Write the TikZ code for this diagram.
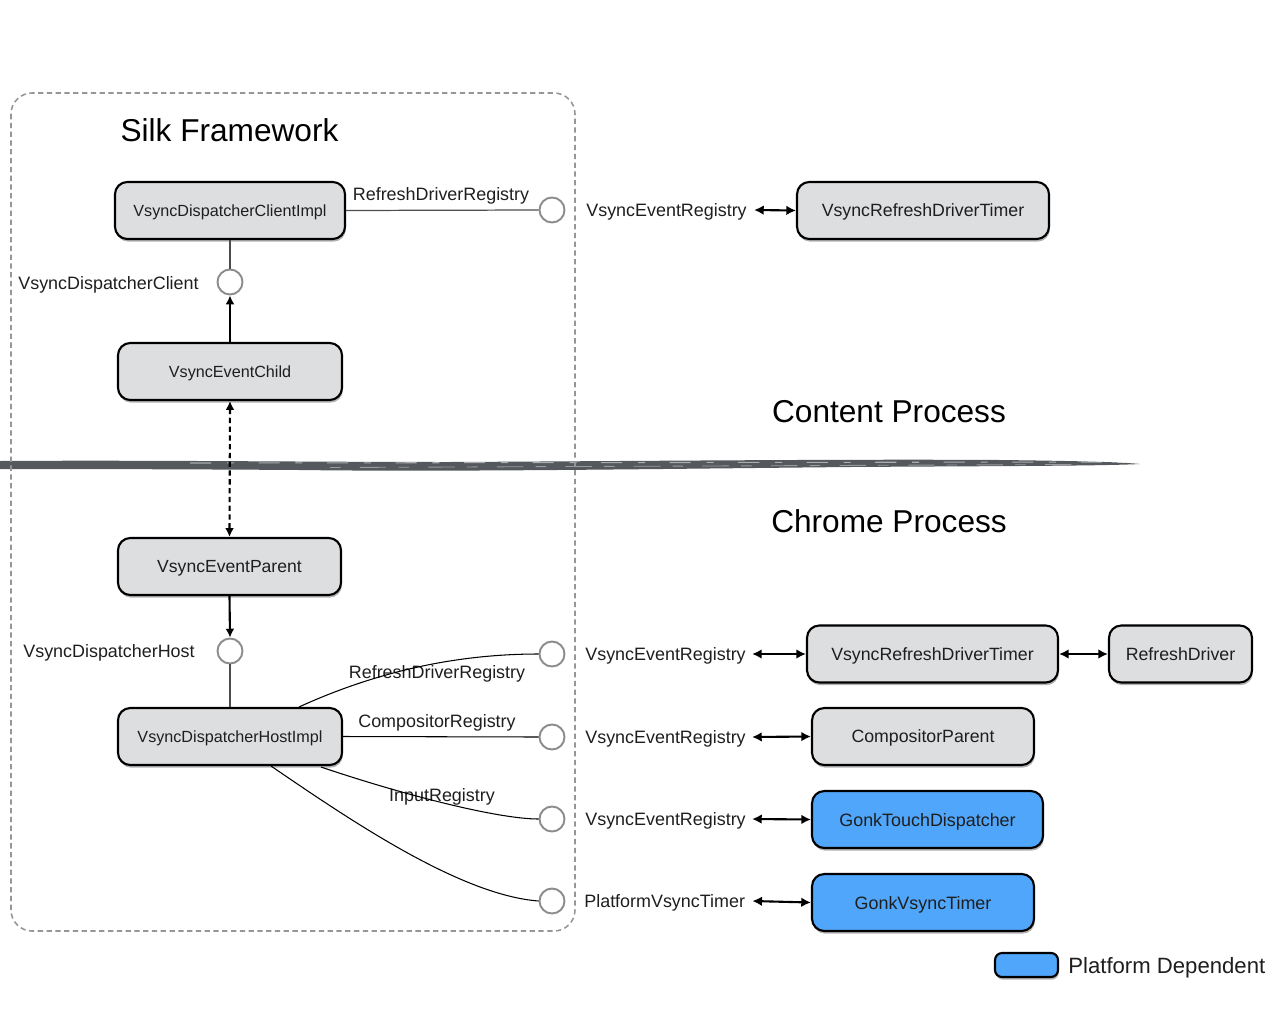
\documentclass[tikz,border=0pt]{standalone}
\usepackage{fontspec}
\setmainfont{Liberation Sans}
\usetikzlibrary{arrows.meta,shadows,calc}
\definecolor{boxgray}{RGB}{221,222,224}
\definecolor{pblue}{RGB}{80,166,250}
\definecolor{ringgray}{RGB}{140,140,140}
\definecolor{brushc}{RGB}{85,89,94}
\definecolor{framegray}{RGB}{150,150,150}
\definecolor{txt}{RGB}{30,30,30}
\def\u{0.02cm}
\tikzset{
  basebox/.style={draw=black, line width=1.2pt, rounded corners=7pt, inner sep=0pt,
    minimum height=57*\u, text=txt, text depth=0pt,
    drop shadow={shadow xshift=0.5pt, shadow yshift=-1.5pt, opacity=0.3, fill=black}},
  lbox/.style={basebox, fill=boxgray, font=\fontsize{9.2pt}{11pt}\selectfont},
  rbox/.style={basebox, fill=boxgray, font=\fontsize{10.1pt}{12pt}\selectfont},
  bbox/.style={basebox, fill=pblue, font=\fontsize{10.2pt}{12pt}\selectfont},
  ring/.style={circle, draw=ringgray, line width=1.1pt, fill=white, minimum size=25*\u, inner sep=0pt},
  lbl/.style={font=\fontsize{10.2pt}{12pt}\selectfont, text=txt, inner sep=0pt, text depth=0pt},
  rlbl/.style={font=\fontsize{10.2pt}{12pt}\selectfont, text=txt, inner sep=0pt, text depth=0pt, anchor=west},
  ttl/.style={font=\fontsize{18pt}{21pt}\selectfont, inner sep=0pt, text depth=0pt},
  conn/.style={draw=black!70, line width=0.7pt},
  curv/.style={draw=black, line width=0.6pt},
  arr/.style={draw=black, line width=1.2pt, -{Latex[length=5pt,width=5pt]}},
  darr/.style={draw=black, line width=1.2pt, {Latex[length=5.5pt,width=5.5pt]}-{Latex[length=5.5pt,width=5.5pt]}},
  ddarr/.style={draw=black, line width=1.2pt, {Latex[length=5pt,width=5pt]}-{Latex[length=5pt,width=5pt]}, dash pattern=on 3pt off 2pt},
}
\begin{document}
\begin{tikzpicture}[x=0.02cm, y=-0.02cm]
\useasboundingbox (0,0) rectangle (1280,1024);

% brush stroke divider
\fill[brushc] (0,461) .. controls (150,460) and (300,462) .. (450,462)
  .. controls (650,461) and (850,459) .. (1000,460)
  .. controls (1080,461) and (1120,462) .. (1140,464)
  .. controls (1100,466) and (1000,466) .. (850,467)
  .. controls (650,469) and (450,472) .. (300,470)
  .. controls (150,469) and (50,469) .. (0,469) -- cycle;
\draw[white, opacity=0.5, line width=0.6pt, dash pattern=on 12pt off 9pt on 4pt off 14pt] (190,463) -- (1130,462);
\draw[white, opacity=0.4, line width=0.5pt, dash pattern=on 6pt off 11pt on 15pt off 7pt] (330,467.5) -- (1080,464.5);

% dashed frame
\draw[framegray, line width=0.9pt, dash pattern=on 3pt off 2pt, rounded corners=12pt] (11,93) rectangle (575,931);

% titles
\node[ttl] (silk) at (229.5,130) {Silk Framework};
\node[ttl] (content) at (889,411) {Content Process};
\node[ttl] (chrome) at (889,521) {Chrome Process};

% left column boxes
\node[lbox, minimum width=230*\u] (vdci) at (230,210.5) {VsyncDispatcherClientImpl};
\node[lbox, minimum width=224*\u] (vec) at (230,371.5) {VsyncEventChild};
\node[lbox, minimum width=223*\u, font=\fontsize{10pt}{12pt}\selectfont] (vep) at (229.5,566.5) {VsyncEventParent};
\node[lbox, minimum width=224*\u] (vdhi) at (230,736.5) {VsyncDispatcherHostImpl};

% rings
\node[ring] (r0) at (552,210) {};
\node[ring] (vdc) at (230,282) {};
\node[ring] (vdh) at (230,651) {};
\node[ring] (r1) at (552,654) {};
\node[ring] (r2) at (552,737) {};
\node[ring] (r3) at (552,819) {};
\node[ring] (r4) at (552,901) {};

% labels inside frame
\node[lbl] (l0) at (441,194) {RefreshDriverRegistry};
\node[lbl, anchor=east] (lvdc) at (199,283) {VsyncDispatcherClient};
\node[lbl, anchor=east] (lvdh) at (195,651) {VsyncDispatcherHost};
\node[lbl] (l1) at (437,672) {RefreshDriverRegistry};
\node[lbl] (l2) at (437,721) {CompositorRegistry};
\node[lbl] (l3) at (442,795) {InputRegistry};

% connectors inside frame
\draw[conn] (vdci.east) -- (r0.west);
\draw[conn] (vdci.south) -- (vdc.north);
\draw[arr] (vec.north) -- (vdc.south);
\draw[ddarr] (vec.south) -- (vep.north);
\draw[arr] (vep.south) -- (vdh.north);
\draw[conn] (vdh.south) -- (vdhi.north);
\draw[curv] ($(vdhi.north east)+(-44,0)$) .. controls (380,670) and (460,654) .. (r1.west);
\draw[curv] (vdhi.east) -- (r2.west);
\draw[curv] ($(vdhi.south east)+(-22,1)$) .. controls (410,797) and (500,819) .. (r3.west);
\draw[curv] ($(vdhi.south east)+(-72,0)$) .. controls (350,820) and (460,895) .. (r4.west);

% right side labels
\node[rlbl] (e0) at (586,210) {VsyncEventRegistry};
\node[rlbl] (e1) at (585,654) {VsyncEventRegistry};
\node[rlbl] (e2) at (585,737) {VsyncEventRegistry};
\node[rlbl] (e3) at (585,819) {VsyncEventRegistry};
\node[rlbl] (e4) at (584,901) {PlatformVsyncTimer};

% right boxes
\node[rbox, minimum width=252*\u] (t0) at (923,210.5) {VsyncRefreshDriverTimer};
\node[rbox, minimum width=251*\u] (t1) at (932.5,654) {VsyncRefreshDriverTimer};
\node[rbox, minimum width=143*\u] (rd) at (1180.5,654) {RefreshDriver};
\node[rbox, minimum width=222*\u] (cp) at (923,736.5) {CompositorParent};
\node[bbox, minimum width=231*\u] (gtd) at (927.5,819.5) {GonkTouchDispatcher};
\node[bbox, minimum width=222*\u] (gvt) at (923,902.5) {GonkVsyncTimer};

% right arrows
\draw[darr] ($(e0.east)+(7,0)$) -- (t0.west);
\draw[darr] ($(e1.east)+(6,0)$) -- (t1.west);
\draw[darr] (t1.east) -- (rd.west);
\draw[darr] ($(e2.east)+(6,0)$) -- (cp.west);
\draw[darr] ($(e3.east)+(6,0)$) -- (gtd.west);
\draw[darr] ($(e4.east)+(7,0)$) -- (gvt.west);

% legend
\node[bbox, minimum width=63*\u, minimum height=24*\u, rounded corners=4pt] (leg) at (1026.5,965) {};
\node[font=\fontsize{12.6pt}{15pt}\selectfont, text=txt, inner sep=0pt, text depth=0pt, anchor=west] (legt) at (1068,965) {Platform Dependent};
\end{tikzpicture}
\end{document}
